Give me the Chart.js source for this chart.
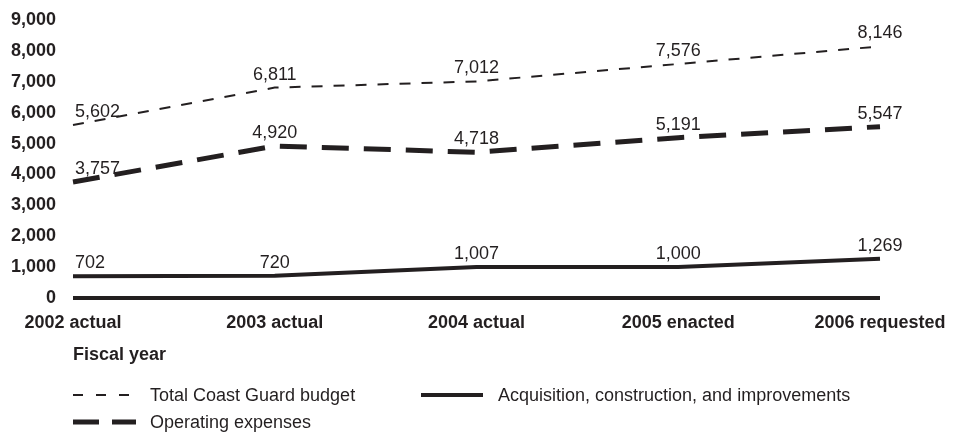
<!DOCTYPE html>
<html>
<head>
<meta charset="utf-8">
<script src="https://cdn.jsdelivr.net/npm/chart.js@4"></script>
<style>
  html, body { margin: 0; padding: 0; background: #fff; }
  #wrap { width: 961px; height: 432px; position: relative; }
</style>
</head>
<body>
<div id="wrap"><canvas id="budgetChart"></canvas></div>
<script>
const years = ['2002 actual', '2003 actual', '2004 actual', '2005 enacted', '2006 requested'];
const totalBudget = [5602, 6811, 7012, 7576, 8146];
const operating = [3757, 4920, 4718, 5191, 5547];
const acquisition = [702, 720, 1007, 1000, 1269];
const yTicks = [0, 1000, 2000, 3000, 4000, 5000, 6000, 7000, 8000, 9000];

const ink = '#231f20';
const fontFamily = '"Liberation Sans", Arial, Helvetica, sans-serif';

// value labels above each point
const valueLabels = {
    id: 'valueLabels',
    afterDatasetsDraw(chart) {
        const ctx = chart.ctx;
        ctx.save();
        ctx.font = '18px ' + fontFamily;
        ctx.fillStyle = ink;
        ctx.textBaseline = 'alphabetic';
        chart.data.datasets.forEach((ds, i) => {
            chart.getDatasetMeta(i).data.forEach((pt, j) => {
                ctx.textAlign = j === 0 ? 'left' : 'center';
                ctx.fillText(ds.data[j].toLocaleString('en-US'), pt.x + (j === 0 ? 2 : 0), pt.y - 8);
            });
        });
        ctx.restore();
    }
};

// legend drawn at the bottom, two columns
const bottomLegend = {
    id: 'bottomLegend',
    afterDraw(chart) {
        const ctx = chart.ctx;
        const ds = chart.data.datasets;
        const items = [
            { d: ds[0], x: 73, y: 395, len: 56, dash: [10, 13] },
            { d: ds[2], x: 421, y: 395, len: 62, dash: [] },
            { d: ds[1], x: 73, y: 422, len: 63, dash: [26, 13] }
        ];
        ctx.save();
        items.forEach(it => {
            ctx.beginPath();
            ctx.strokeStyle = ink;
            ctx.lineWidth = it.d.borderWidth;
            ctx.setLineDash(it.dash);
            ctx.moveTo(it.x, it.y);
            ctx.lineTo(it.x + it.len, it.y);
            ctx.stroke();
            ctx.setLineDash([]);
            ctx.font = '18px ' + fontFamily;
            ctx.fillStyle = ink;
            ctx.textAlign = 'left';
            ctx.textBaseline = 'middle';
            ctx.fillText(it.d.label, it.x < 200 ? 150 : 498, it.y + 1);
        });
        ctx.restore();
    }
};

new Chart(document.getElementById('budgetChart'), {
    type: 'line',
    data: {
        labels: years,
        datasets: [
            {
                label: 'Total Coast Guard budget',
                data: totalBudget,
                borderColor: ink,
                borderWidth: 2,
                borderDash: [11, 11]
            },
            {
                label: 'Operating expenses',
                data: operating,
                borderColor: ink,
                borderWidth: 5,
                borderDash: [27, 15]
            },
            {
                label: 'Acquisition, construction, and improvements',
                data: acquisition,
                borderColor: ink,
                borderWidth: 4
            }
        ]
    },
    options: {
        responsive: true,
        maintainAspectRatio: false,
        animation: false,
        elements: {
            point: { radius: 0 },
            line: { tension: 0 }
        },
        layout: {
            padding: { left: 0, right: 81, top: 20, bottom: 66 }
        },
        scales: {
            x: {
                grid: { display: false },
                border: { display: false },
                afterFit(axis) {
                    axis.height = 68;
                    axis.paddingLeft = 0;
                    axis.paddingRight = 0;
                },
                ticks: {
                    color: ink,
                    padding: 6,
                    maxRotation: 0,
                    font: { family: fontFamily, size: 18, weight: 'bold' }
                },
                title: {
                    display: true,
                    text: 'Fiscal year',
                    align: 'start',
                    color: ink,
                    padding: { top: 10, bottom: 0 },
                    font: { family: fontFamily, size: 18, weight: 'bold' }
                }
            },
            y: {
                min: 0,
                max: 9000,
                afterBuildTicks(axis) {
                    axis.ticks = yTicks.map(v => ({ value: v }));
                },
                afterFit(axis) {
                    axis.width = 73;
                    axis.paddingTop = 0;
                    axis.paddingBottom = 0;
                },
                border: { display: false },
                grid: {
                    drawTicks: false,
                    lineWidth: 4,
                    color: c => (c.tick && c.tick.value === 0 ? ink : 'rgba(0,0,0,0)')
                },
                ticks: {
                    color: ink,
                    padding: 17,
                    font: { family: fontFamily, size: 18, weight: 'bold' },
                    callback: v => v.toLocaleString('en-US')
                }
            }
        },
        plugins: {
            legend: { display: false },
            tooltip: { enabled: false }
        }
    },
    plugins: [valueLabels, bottomLegend]
});
</script>
</body>
</html>
